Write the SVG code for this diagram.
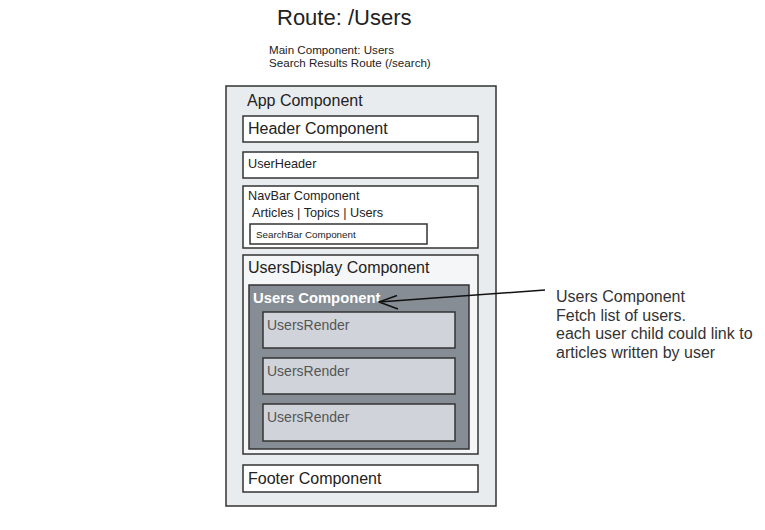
<svg xmlns="http://www.w3.org/2000/svg" width="765" height="530" viewBox="0 0 765 530">
<style>
text{font-family:"Liberation Sans",Arial,sans-serif;fill:#222}
.box{stroke:#333;stroke-width:1.5}
.white{fill:#fff}
.render{fill:#d0d4da}
.rt{font-size:14px;fill:#555}
.l16{font-size:16px}
.l13{font-size:12.7px}
</style>
<rect width="765" height="530" fill="#fff"/>
<g id="title">
<text x="277" y="25" style="font-size:22px">Route: /Users</text>
<text x="269" y="54" style="font-size:11.6px">Main Component: Users</text>
<text x="269" y="67" style="font-size:11.6px">Search Results Route (/search)</text>
</g>
<g id="app">
<rect class="box" x="226" y="86" width="270" height="420" fill="#e9ecef"/>
<text class="l16" x="247" y="106">App Component</text>
</g>
<g id="header">
<rect class="box white" x="243" y="116" width="235" height="26"/>
<text class="l16" x="248" y="133.5">Header Component</text>
</g>
<g id="userheader">
<rect class="box white" x="243" y="152" width="235" height="26"/>
<text class="l13" x="248" y="168">UserHeader</text>
</g>
<g id="navbar">
<rect class="box white" x="243" y="186" width="235" height="62"/>
<text class="l13" x="248" y="200">NavBar Component</text>
<text class="l13" x="252" y="217">Articles | Topics | Users</text>
</g>
<g id="searchbar">
<rect class="box white" x="250" y="224" width="177" height="20"/>
<text x="256" y="238" style="font-size:9.8px">SearchBar Component</text>
</g>
<g id="usersdisplay">
<rect class="box" x="243" y="255" width="235" height="199" fill="#f5f6f8"/>
<text class="l16" x="248" y="273">UsersDisplay Component</text>
</g>
<g id="users">
<rect class="box" x="249" y="285" width="220" height="164" fill="#868d95"/>
<text x="253" y="303" style="font-size:14.8px;font-weight:bold;fill:#fff">Users Component</text>
</g>
<g id="render1">
<rect class="box render" x="263" y="312" width="192" height="36"/>
<text class="rt" x="267" y="330">UsersRender</text>
</g>
<g id="render2">
<rect class="box render" x="263" y="358" width="192" height="36"/>
<text class="rt" x="267" y="376">UsersRender</text>
</g>
<g id="render3">
<rect class="box render" x="263" y="404" width="192" height="37"/>
<text class="rt" x="267" y="422">UsersRender</text>
</g>
<g id="footer">
<rect class="box white" x="243" y="465" width="235" height="27"/>
<text class="l16" x="248" y="484">Footer Component</text>
</g>
<g id="note">
<text class="l16" x="556" y="302" style="fill:#333">Users Component</text>
<text class="l16" x="556" y="320.5" style="fill:#333">Fetch list of users.</text>
<text class="l16" x="556" y="339" style="fill:#333">each user child could link to</text>
<text class="l16" x="556" y="357.5" style="fill:#333">articles written by user</text>
</g>
<g id="connectors" fill="none" stroke="#111" stroke-width="1.5">
<path d="M545 290 L379 302"/>
<path d="M397 295.5 L379 302 L398 309"/>
</g>
</svg>
